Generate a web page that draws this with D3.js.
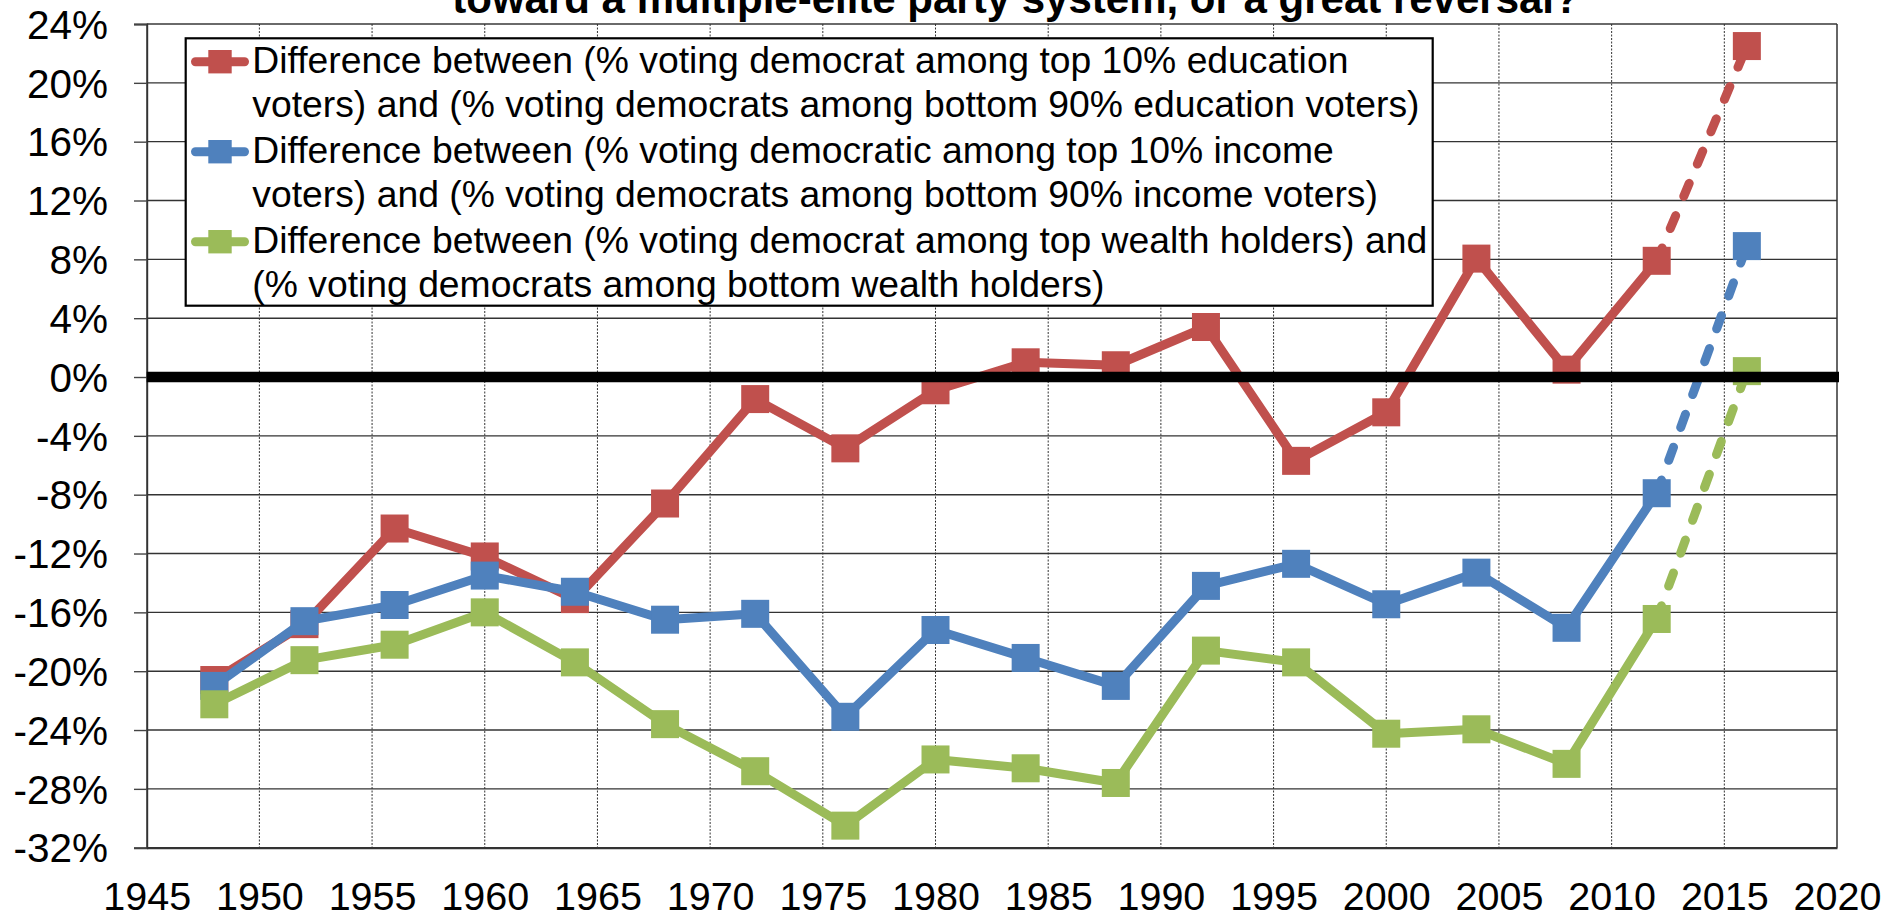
<!DOCTYPE html>
<html>
<head>
<meta charset="utf-8">
<script src="https://cdn.jsdelivr.net/npm/d3@7"></script>
<style>
  html, body { margin: 0; padding: 0; background: #fff; }
  svg { display: block; }
  text { font-family: "Liberation Sans", Arial, sans-serif; fill: #000; }
</style>
</head>
<body>
<svg id="chart" width="1901" height="919"></svg>
<script>
// ---------- DATA ----------
const years = [1948, 1952, 1956, 1960, 1964, 1968, 1972, 1976, 1980, 1984, 1988, 1992, 1996, 2000, 2004, 2008, 2012, 2016];
const education = [-20.6, -16.8, -10.3, -12.2, -15.1, -8.6, -1.5, -4.85, -0.9, 1.0, 0.8, 3.4, -5.7, -2.4, 8.05, 0.5, 7.9, 22.5];
const income = [-21.0, -16.6, -15.5, -13.5, -14.6, -16.5, -16.1, -23.1, -17.2, -19.1, -21.0, -14.2, -12.7, -15.45, -13.3, -17.05, -7.9, 8.9];
const wealth = [-22.25, -19.25, -18.2, -16.0, -19.4, -23.6, -26.8, -30.5, -26.0, -26.6, -27.6, -18.6, -19.4, -24.25, -23.95, -26.3, -16.45, 0.4];
const dashedFromYear = 2012; // segment 2012 -> 2016 is dashed
const xTicks = [1945, 1950, 1955, 1960, 1965, 1970, 1975, 1980, 1985, 1990, 1995, 2000, 2005, 2010, 2015, 2020];
const yTicks = [24, 20, 16, 12, 8, 4, 0, -4, -8, -12, -16, -20, -24, -28, -32];
const seriesNames = [
  ["Difference between (% voting democrat among top 10% education", "voters) and (% voting democrats among bottom 90% education voters)"],
  ["Difference between (% voting democratic among top 10% income", "voters) and (% voting democrats among bottom 90% income voters)"],
  ["Difference between (% voting democrat among top wealth holders) and", "(% voting democrats among bottom wealth holders)"]
];
const seriesColors = ["#C0504D", "#4F81BD", "#9BBB59"];
const titleText = "toward a multiple-elite party system, or a great reversal?";

// ---------- LAYOUT ----------
const svg = d3.select("#chart");
const X0 = 146.7, X1 = 1837, Y0 = 24, Y1 = 847.7;
const x = d3.scaleLinear().domain([1945, 2020]).range([X0, X1]);
const y = d3.scaleLinear().domain([-32, 24]).range([Y1, Y0]);

svg.append("rect").attr("width", 1901).attr("height", 919).attr("fill", "#fff");

// title (partly cut at top, as in the source image)
svg.append("text")
  .attr("x", 1016).attr("y", 13)
  .attr("text-anchor", "middle")
  .style("font-size", "42px").style("font-weight", "bold")
  .text(titleText);

// horizontal gridlines
svg.append("g").selectAll("line").data(yTicks).join("line")
  .attr("x1", X0).attr("x2", X1)
  .attr("y1", d => y(d)).attr("y2", d => y(d))
  .attr("stroke", d => d === 24 ? "#6a6a6a" : "#333")
  .attr("stroke-width", d => d === 24 ? 2 : 1.4);

// vertical dotted gridlines
svg.append("g").selectAll("line").data(xTicks.filter(d => d > 1945 && d < 2020)).join("line")
  .attr("x1", d => x(d)).attr("x2", d => x(d))
  .attr("y1", Y0).attr("y2", Y1)
  .attr("stroke", "#333").attr("stroke-width", 1)
  .attr("stroke-dasharray", "2,1.5");

// right border
svg.append("line").attr("x1", X1).attr("x2", X1).attr("y1", Y0).attr("y2", Y1)
  .attr("stroke", "#333").attr("stroke-width", 1.5);

// y axis
const yAxis = svg.append("g").attr("transform", `translate(${X0},0)`)
  .call(d3.axisLeft(y).tickValues(yTicks).tickSize(12.7).tickPadding(26).tickFormat(d => d + "%"));
yAxis.select(".domain").attr("stroke", "#333").attr("stroke-width", 2);
yAxis.selectAll(".tick line").attr("stroke", "#444").attr("stroke-width", 1.4);
yAxis.selectAll(".tick text")
  .style("font-family", '"Liberation Sans", Arial, sans-serif')
  .style("font-size", "40.5px").attr("fill", "#000").attr("dy", "0.35em");

// x axis
const xAxis = svg.append("g").attr("transform", `translate(0,${Y1})`)
  .call(d3.axisBottom(x).tickValues(xTicks).tickSize(0).tickPadding(34).tickFormat(d3.format("d")));
xAxis.select(".domain").attr("stroke", "#333").attr("stroke-width", 2);
xAxis.selectAll(".tick text")
  .style("font-family", '"Liberation Sans", Arial, sans-serif')
  .style("font-size", "39.5px").attr("fill", "#000").attr("dy", "0.71em");

// series
const allSeries = [education, income, wealth];
const line = d3.line().x(d => x(d[0])).y(d => y(d[1]));
const plot = svg.append("g");
allSeries.forEach((vals, i) => {
  const pts = years.map((yr, j) => [yr, vals[j]]);
  const solid = pts.filter(p => p[0] <= dashedFromYear);
  const dashed = pts.filter(p => p[0] >= dashedFromYear);
  const g = plot.append("g");
  g.append("path").attr("d", line(solid))
    .attr("fill", "none").attr("stroke", seriesColors[i]).attr("stroke-width", 9)
    .attr("stroke-linejoin", "round").attr("stroke-linecap", "round");
  g.append("path").attr("d", line(dashed))
    .attr("fill", "none").attr("stroke", seriesColors[i]).attr("stroke-width", 9)
    .attr("stroke-linecap", "round").attr("stroke-dasharray", "14,21");
  const ms = 28;
  g.selectAll("rect").data(pts).join("rect")
    .attr("x", d => x(d[0]) - ms / 2).attr("y", d => y(d[1]) - ms / 2)
    .attr("width", ms).attr("height", ms)
    .attr("fill", seriesColors[i]);
});

// zero line on top
svg.append("line").attr("x1", X0).attr("x2", X1 + 2)
  .attr("y1", y(0)).attr("y2", y(0))
  .attr("stroke", "#000").attr("stroke-width", 10.5);

// legend
const lg = svg.append("g");
lg.append("rect").attr("x", 185.7).attr("y", 38.3).attr("width", 1247).attr("height", 267.4)
  .attr("fill", "#fff").attr("stroke", "#000").attr("stroke-width", 2.2);
seriesNames.forEach((lines, i) => {
  const base = 72.7 + i * 90;
  const cy = base - 11;
  lg.append("line").attr("x1", 195.5).attr("x2", 244.5).attr("y1", cy).attr("y2", cy)
    .attr("stroke", seriesColors[i]).attr("stroke-width", 9).attr("stroke-linecap", "round");
  lg.append("rect").attr("x", 220 - 11.7).attr("y", cy - 11.7).attr("width", 23.4).attr("height", 23.4)
    .attr("fill", seriesColors[i]);
  lines.forEach((t, j) => {
    lg.append("text").attr("x", 252.3).attr("y", base + j * 44)
      .style("font-size", "37.3px").text(t);
  });
});
</script>
</body>
</html>
